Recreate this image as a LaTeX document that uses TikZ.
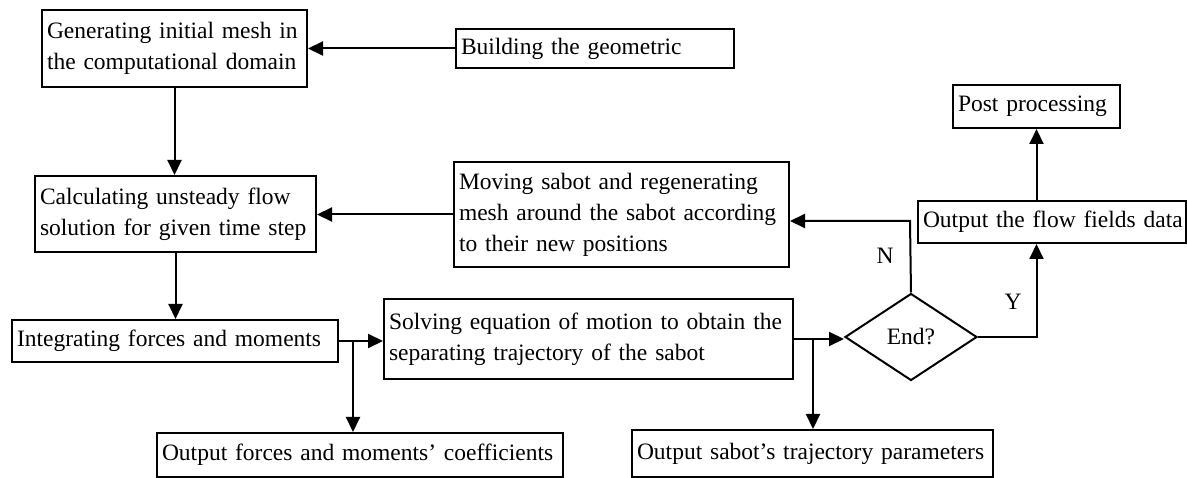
\documentclass[tikz,border=0pt]{standalone}
\usepackage{fontspec}
\setmainfont{Liberation Serif}
\usetikzlibrary{arrows.meta,shapes.geometric,calc}
\tikzset{
  box/.style={draw, line width=2pt, rectangle, anchor=north west, inner xsep=5pt, inner ysep=0pt, align=left, font=\fontsize{23.5pt}{31pt}\selectfont},
  dec/.style={draw, line width=2pt, diamond, inner sep=0pt, font=\fontsize{23.5pt}{31pt}\selectfont},
  lab/.style={font=\fontsize{23.5pt}{31pt}\selectfont, inner sep=0pt},
  arr/.style={line width=2pt, -{Triangle[length=15pt,width=14pt]}}
}
\begin{document}
\begin{tikzpicture}[x=1pt,y=-1pt]
\useasboundingbox[fill=white] (0,0) rectangle (1187,478);
\node[box, text width=255pt, minimum height=77pt] (A) at (41,9) {\mbox{Generating initial mesh in}\\\mbox{the computational domain}};
\node[box, text width=268pt, minimum height=39pt] (B) at (455,28) {\mbox{Building the geometric}};
\node[box, text width=271pt, minimum height=76pt] (C) at (34,175) {\mbox{Calculating unsteady flow}\\\mbox{solution for given time step}};
\node[box, text width=325pt, minimum height=105pt] (Mv) at (453,161) {\mbox{Moving sabot and regenerating}\\\mbox{mesh around the sabot according}\\\mbox{to their new positions}};
\node[box, text width=157pt, minimum height=43pt] (Post) at (952,84) {\mbox{Post processing}};
\node[box, text width=258pt, minimum height=42pt] (Flow) at (917,200) {\mbox{Output the flow fields data}};
\node[box, text width=316pt, minimum height=42pt] (D) at (11,319) {\mbox{Integrating forces and moments}};
\node[box, text width=399pt, minimum height=80pt] (S) at (383,298) {\mbox{Solving equation of motion to obtain the}\\\mbox{separating trajectory of the sabot}};
\node[dec, minimum width=132pt, minimum height=87pt] (End) at (911,337) {End?};
\node[box, text width=396pt, minimum height=44pt] (F) at (156,432) {\mbox{Output forces and moments’ coefficients}};
\node[box, text width=351pt, minimum height=47pt] (T) at (631,429) {\mbox{Output sabot’s trajectory parameters}};
\node[lab] (lN) at (885,256) {N};
\node[lab] (lY) at (1013,302) {Y};
\coordinate (j1) at (353,340);
\coordinate (j2) at (813,338);
\coordinate (nc) at (910,221);
\draw[arr] (B.west) -- (B.west -| A.east);
\draw[arr] (A.south) -- (A.south |- C.north);
\draw[arr] (Mv.west) -- (Mv.west -| C.east);
\draw[arr] (C.south) -- (C.south |- D.north);
\draw[arr] (D.east) -- (D.east -| S.west);
\draw[arr] (j1) -- (j1 |- F.north);
\draw[arr] (S.east) -- (S.east -| End.west);
\draw[arr] (j2) -- (j2 |- T.north);
\draw[arr] (End.north) -- (nc) -- (nc -| Mv.east);
\draw[arr] (End.east) -| (Post.south |- Flow.south);
\draw[arr] (Post.south |- Flow.north) -- (Post.south);
\end{tikzpicture}
\end{document}
